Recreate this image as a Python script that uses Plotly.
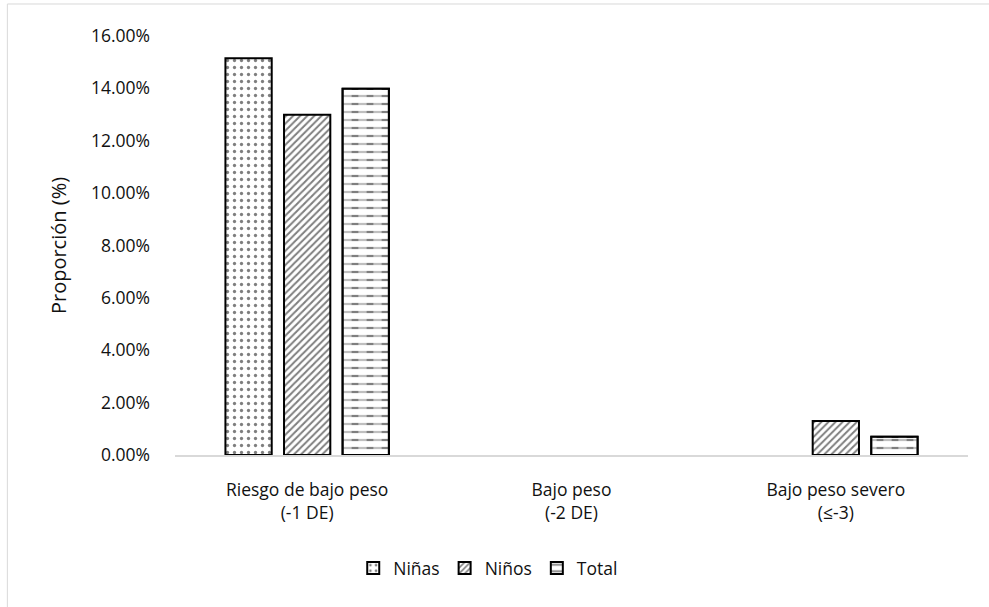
import plotly.graph_objects as go

# Categories (x axis) and proportions per group
categorias = ["Riesgo de bajo peso<br>(-1 DE)", "Bajo peso<br>(-2 DE)", "Bajo peso severo<br>(≤-3)"]
ninas = [0.1515, 0.0, 0.0]
ninos = [0.1299, 0.0, 0.0130]
total = [0.1399, 0.0, 0.0070]
y_ticks = [0, 0.02, 0.04, 0.06, 0.08, 0.10, 0.12, 0.14, 0.16]

FONT = "Open Sans"
TXT = "#111111"


def visible(values):
    # zero-height bars are left undrawn (no outline on the baseline)
    return [v if v > 0 else None for v in values]


fig = go.Figure()

fig.add_trace(go.Bar(
    name="Niñas", x=categorias, y=visible(ninas), offsetgroup="a",
    marker=dict(color="white", line=dict(color="black", width=2),
                pattern=dict(shape=".", fgcolor="black", bgcolor="white",
                             size=7, solidity=0.17)),
))
fig.add_trace(go.Bar(
    name="Niños", x=categorias, y=visible(ninos), offsetgroup="b",
    marker=dict(color="white", line=dict(color="black", width=2),
                pattern=dict(shape="/", fgcolor="black", bgcolor="white",
                             size=5, solidity=0.4)),
))
# Total: horizontal lines broken into dashes by a white vertical pattern,
# then an outline layer on top
fig.add_trace(go.Bar(
    name="Total", x=categorias, y=visible(total), offsetgroup="c",
    marker=dict(color="white", line=dict(color="black", width=2),
                pattern=dict(shape="-", fgcolor="black", bgcolor="white",
                             size=8, solidity=0.28)),
))
fig.add_trace(go.Bar(
    x=categorias, y=visible(total), offsetgroup="c", showlegend=False, hoverinfo="skip",
    marker=dict(color="rgba(0,0,0,0)", line=dict(width=0),
                pattern=dict(shape="|", fgcolor="white", bgcolor="rgba(0,0,0,0)",
                             size=15, solidity=0.55, fillmode="overlay")),
))
fig.add_trace(go.Bar(
    x=categorias, y=visible(total), offsetgroup="c", showlegend=False, hoverinfo="skip",
    marker=dict(color="rgba(0,0,0,0)", line=dict(color="black", width=2)),
))

# Chart-area border
fig.add_shape(type="rect", xref="paper", yref="paper",
              x0=-0.2114, x1=1.2, y0=-0.6, y1=1.0764,
              line=dict(color="#d9d9d9", width=1), fillcolor="rgba(0,0,0,0)",
              layer="below")

fig.update_layout(
    width=989, height=607,
    margin=dict(l=175, r=21, t=36, b=152),
    paper_bgcolor="white", plot_bgcolor="white",
    barmode="group", bargap=0.335, bargroupgap=0.21,
    font=dict(family=FONT, color=TXT, size=18),
    xaxis=dict(showline=True, linecolor="#d9d9d9", linewidth=1.5,
               ticks="", tickfont=dict(size=17.5, color=TXT),
               ticklabelstandoff=18),
    yaxis=dict(range=[0, 0.16], tickvals=y_ticks, tickformat=".2%",
               showgrid=False, zeroline=False, showline=False,
               ticks="", tickfont=dict(size=17.5, color=TXT),
               ticklabelstandoff=24,
               title=dict(text="Proporción (%)", font=dict(size=20, color=TXT),
                          standoff=18)),
    legend=dict(orientation="h", x=0.395, y=-0.27, xanchor="center",
                yanchor="middle", font=dict(size=17.5, color=TXT),
                itemwidth=30, traceorder="normal"),
    showlegend=True,
)

fig.write_html("out.html")
